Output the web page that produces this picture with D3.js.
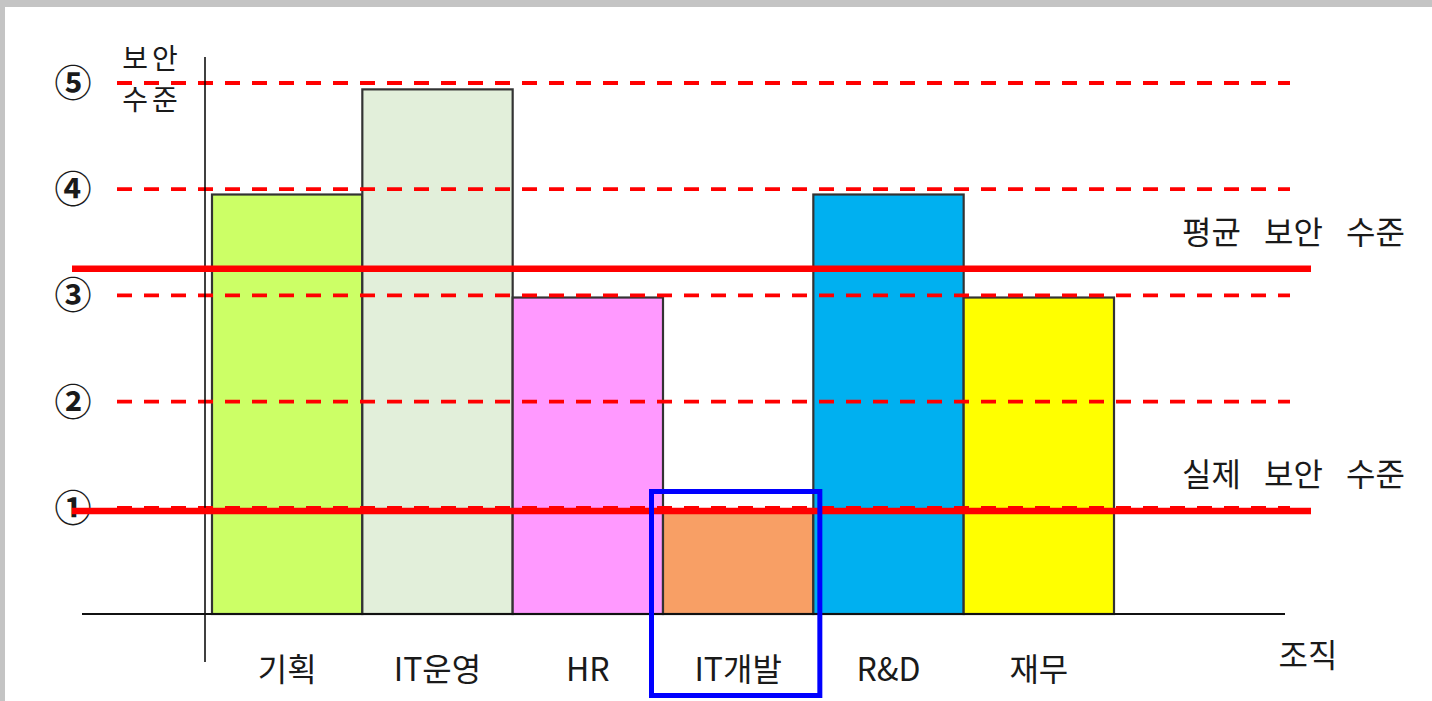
<!DOCTYPE html>
<html><head><meta charset="utf-8">
<script src="https://cdn.jsdelivr.net/npm/d3@7"></script>
<style>
html,body{margin:0;padding:0;background:#fff;}
svg{display:block;}
text{font-family:"Noto Sans CJK KR","Noto Sans",sans-serif;fill:#1a1a1a;}
</style></head>
<body>
<script>
// ---- data ----
const categories = ["기획", "IT운영", "HR", "IT개발", "R&D", "재무"];
const securityLevels = [3.95, 4.94, 2.98, 0.96, 3.95, 2.98];
const barColors = ["#ccff66", "#e2efda", "#ff99ff", "#f89f65", "#00b0f0", "#ffff00"];
const levelTicks = [1, 2, 3, 4, 5];
const levelTickLabels = ["①", "②", "③", "④", "⑤"];
const averageLevel = 3.25;
const actualLevel = 0.97;
const refLines = [
  {label: "평균 보안 수준", value: averageLevel},
  {label: "실제 보안 수준", value: actualLevel}
];
const highlighted = "IT개발";
const yAxisTitle = ["보안", "수준"];
const xAxisTitle = "조직";

const W = 1432, H = 701;
const svg = d3.select("body").append("svg").attr("width", W).attr("height", H);

// frame
svg.append("rect").attr("x",0).attr("y",0).attr("width",W).attr("height",H).attr("fill","#fff");
svg.append("rect").attr("x",0).attr("y",0).attr("width",W).attr("height",7).attr("fill","#c4c4c4");
svg.append("rect").attr("x",0).attr("y",0).attr("width",5).attr("height",H).attr("fill","#c4c4c4");

const x = d3.scaleBand().domain(categories).range([212, 1114]).padding(0);
const y = d3.scaleLinear().domain([0, 5]).range([614, 83]);

// bars
svg.append("g").selectAll("rect").data(categories).join("rect")
  .attr("x", d => x(d))
  .attr("y", (d,i) => y(securityLevels[i]))
  .attr("width", x.bandwidth())
  .attr("height", (d,i) => y(0) - y(securityLevels[i]))
  .attr("fill", (d,i) => barColors[i])
  .attr("stroke", "#333")
  .attr("stroke-width", 2.2);

// dashed level grid lines
svg.append("g").selectAll("line").data(levelTicks).join("line")
  .attr("x1", 117).attr("x2", 1290)
  .attr("y1", d => y(d)).attr("y2", d => y(d))
  .attr("stroke", "#ff0000").attr("stroke-width", 3.8)
  .attr("stroke-dasharray", "15,12");

// level labels (circled numbers)
svg.append("g").selectAll("text").data(levelTicks).join("text")
  .attr("x", 73).attr("y", d => y(d) - 2)
  .attr("text-anchor", "middle")
  .attr("dominant-baseline", "central")
  .style("font-size", "37px").style("font-weight", "bold")
  .text((d,i) => levelTickLabels[i]);

// axes lines
svg.append("line").attr("x1", 205).attr("x2", 205).attr("y1", 57).attr("y2", 662)
  .attr("stroke", "#000").attr("stroke-width", 1.5);
svg.append("line").attr("x1", 82).attr("x2", 1285).attr("y1", y(0)).attr("y2", y(0))
  .attr("stroke", "#111").attr("stroke-width", 2);

// reference solid lines
svg.append("g").selectAll("line").data(refLines).join("line")
  .attr("x1", 72).attr("x2", 1311)
  .attr("y1", d => y(d.value)).attr("y2", d => y(d.value))
  .attr("stroke", "#ff0000").attr("stroke-width", 6.5);

svg.append("g").selectAll("text").data(refLines).join("text")
  .attr("x", 1405).attr("y", d => y(d.value) - 25)
  .attr("text-anchor", "end")
  .style("font-size", "32px").style("word-spacing", "16px")
  .text(d => d.label);

// category labels
svg.append("g").selectAll("text").data(categories).join("text")
  .attr("x", d => x(d) + x.bandwidth()/2)
  .attr("y", 681)
  .attr("text-anchor", "middle")
  .style("font-size", "32px")
  .text(d => d);

// axis titles
svg.append("text").attr("x", 152).attr("y", 69).attr("text-anchor","middle")
  .style("font-size","28px").style("letter-spacing","4px").text(yAxisTitle[0]);
svg.append("text").attr("x", 152).attr("y", 110).attr("text-anchor","middle")
  .style("font-size","28px").style("letter-spacing","4px").text(yAxisTitle[1]);
svg.append("text").attr("x", 1308).attr("y", 667).attr("text-anchor","middle")
  .style("font-size","32px").text(xAxisTitle);

// highlight box
const hx = x(highlighted);
svg.append("rect")
  .attr("x", hx - 11.5).attr("y", 491.5)
  .attr("width", x.bandwidth() + 18).attr("height", 204)
  .attr("fill", "none").attr("stroke", "#0000ff").attr("stroke-width", 5);
</script>
</body></html>
